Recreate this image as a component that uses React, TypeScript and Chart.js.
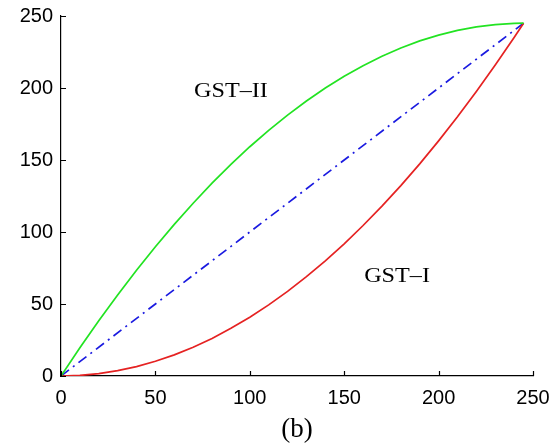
import React, { useEffect, useRef } from "react";
import { Chart, registerables } from "chart.js";

Chart.register(...registerables);

const xValues = [0, 10, 20, 30, 40, 50, 60, 70, 80, 90, 100, 110, 120, 130, 140, 150, 160, 170, 180, 190, 200, 210, 220, 230, 240, 245];
const gstII = [0, 19.6, 38.4, 56.3, 73.5, 89.8, 105.3, 120, 133.9, 146.9, 159.2, 170.6, 181.2, 191, 200, 208.2, 215.5, 222, 227.8, 232.7, 236.7, 240, 242.4, 244, 244.9, 245];
const gstI = [0, 0.4, 1.6, 3.7, 6.5, 10.2, 14.7, 20, 26.1, 33.1, 40.8, 49.4, 58.8, 69, 80, 91.8, 104.5, 118, 132.2, 147.3, 163.3, 180, 197.6, 216, 235.1, 245];
const diagX = [0, 245];
const diagY = [0, 245];
const tickValues = [0, 50, 100, 150, 200, 250];
const labels = [
  { text: "GST\u2013II", x: 90, y: 194 },
  { text: "GST\u2013I", x: 178, y: 65 },
];
const caption = "(b)";

const toPoints = (xs: number[], ys: number[]) => xs.map((x, i) => ({ x, y: ys[i] }));

const extrasPlugin = {
  id: "extras",
  afterDraw(chart: any) {
    const { ctx, scales, chartArea } = chart;
    const xs = scales.x;
    const ys = scales.y;
    ctx.save();
    ctx.strokeStyle = "#000";
    ctx.lineWidth = 1.2;
    ctx.beginPath();
    tickValues.forEach((v) => {
      const px = Math.round(xs.getPixelForValue(v)) + 0.5;
      ctx.moveTo(px, chartArea.bottom);
      ctx.lineTo(px, chartArea.bottom - 5);
      const py = Math.round(ys.getPixelForValue(v)) + 0.5;
      ctx.moveTo(chartArea.left, py);
      ctx.lineTo(chartArea.left + 5, py);
    });
    ctx.stroke();
    ctx.fillStyle = "#000";
    ctx.font = '20px "Liberation Serif", serif';
    ctx.textAlign = "center";
    ctx.textBaseline = "alphabetic";
    labels.forEach((l) => {
      const cx = xs.getPixelForValue(l.x);
      const cy = ys.getPixelForValue(l.y);
      ctx.save();
      ctx.translate(cx, cy);
      ctx.scale(1.21, 1);
      ctx.fillText(l.text, 0, 0);
      ctx.restore();
    });
    ctx.font = '27px "Liberation Serif", serif';
    ctx.fillText(caption, (chartArea.left + chartArea.right) / 2, chart.height - 7);
    ctx.restore();
  },
};

export default function App() {
  const ref = useRef<HTMLCanvasElement | null>(null);
  useEffect(() => {
    if (!ref.current) return;
    const chart = new Chart(ref.current, {
      type: "line",
      data: {
        datasets: [
          {
            label: "GST-II",
            data: toPoints(xValues, gstII),
            borderColor: "#22e322",
            borderWidth: 1.7,
            pointRadius: 0,
            tension: 0,
          },
          {
            label: "GST-I",
            data: toPoints(xValues, gstI),
            borderColor: "#e52222",
            borderWidth: 1.7,
            pointRadius: 0,
            tension: 0,
          },
          {
            label: "identity",
            data: toPoints(diagX, diagY),
            borderColor: "#1a1ae0",
            borderWidth: 1.7,
            borderDash: [10, 5, 2, 5],
            pointRadius: 0,
          },
        ],
      },
      options: {
        animation: false,
        responsive: false,
        maintainAspectRatio: false,
        layout: { padding: { left: 0, right: 24, top: 16, bottom: 0 } },
        plugins: { legend: { display: false }, tooltip: { enabled: false } },
        scales: {
          x: {
            type: "linear",
            min: 0,
            max: 250,
            afterBuildTicks: (s: any) => {
              s.ticks = tickValues.map((v) => ({ value: v }));
            },
            afterFit: (s: any) => {
              s.height = 68;
              s.paddingLeft = 0;
              s.paddingRight = 0;
            },
            grid: { display: true, drawOnChartArea: false, drawTicks: false },
            border: { display: true, color: "#000", width: 1.2 },
            ticks: {
              padding: 10,
              color: "#000",
              font: { family: '"Liberation Sans", Arial, sans-serif', size: 20 },
              maxRotation: 0,
            },
          },
          y: {
            type: "linear",
            min: 0,
            max: 250,
            afterBuildTicks: (s: any) => {
              s.ticks = tickValues.map((v) => ({ value: v }));
            },
            afterFit: (s: any) => {
              s.width = 61;
              s.paddingTop = 0;
              s.paddingBottom = 0;
            },
            grid: { display: true, drawOnChartArea: false, drawTicks: false },
            border: { display: true, color: "#000", width: 1.2 },
            ticks: {
              padding: 8,
              color: "#000",
              font: { family: '"Liberation Sans", Arial, sans-serif', size: 20 },
            },
          },
        },
      },
      plugins: [extrasPlugin],
    });
    return () => chart.destroy();
  }, []);
  return (
    <div style={{ position: "fixed", left: 0, top: 0, width: 557, height: 444, background: "#fff" }}>
      <canvas ref={ref} width={557} height={444} style={{ width: 557, height: 444 }} />
    </div>
  );
}
